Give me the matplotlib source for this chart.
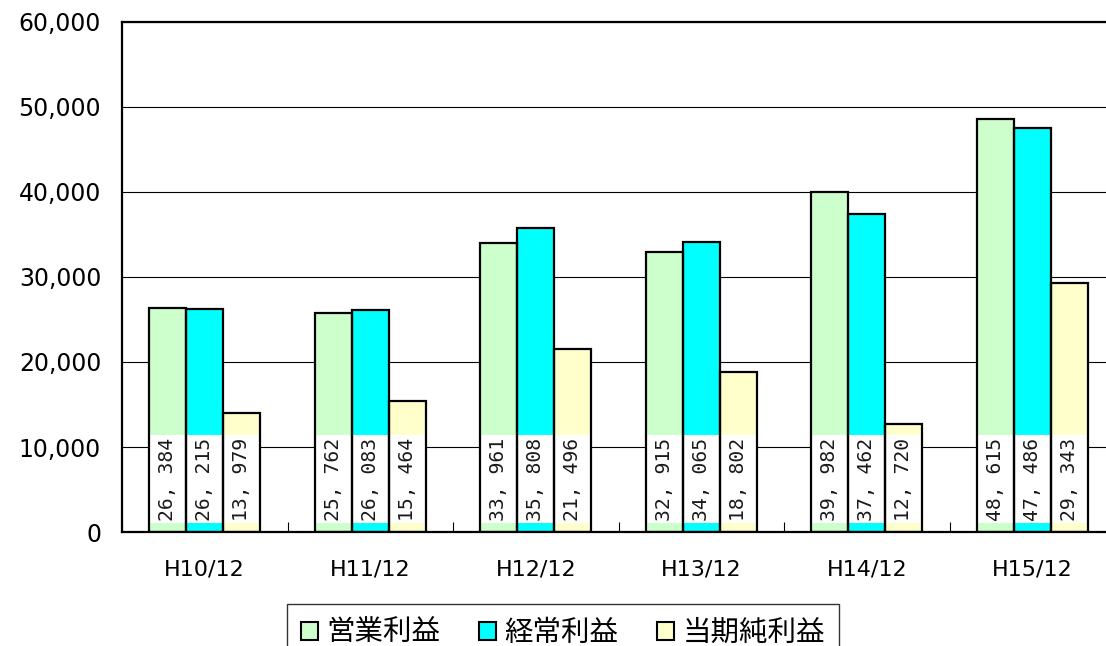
import matplotlib
matplotlib.use("Agg")
import matplotlib.pyplot as plt
import numpy as np
from matplotlib.ticker import FuncFormatter

categories = ["H10/12", "H11/12", "H12/12", "H13/12", "H14/12", "H15/12"]
series_names = ["営業利益", "経常利益", "当期純利益"]
operating = [26384, 25762, 33961, 32915, 39982, 48615]
ordinary = [26215, 26083, 35808, 34065, 37462, 47486]
net = [13979, 15464, 21496, 18802, 12720, 29343]
yticks = [0, 10000, 20000, 30000, 40000, 50000, 60000]

colors = ["#CCFFCC", "#00FFFF", "#FFFFCC"]
series = [operating, ordinary, net]

plt.rcParams['font.family'] = ['DejaVu Sans', 'Noto Sans CJK JP']

W, H = 1106, 646
fig = plt.figure(figsize=(W / 100, H / 100), dpi=100)
ax_left = 122 / W
ax_bottom = 1 - 532 / H
ax_height = (532 - 22) / H
ax_width = 6 * 165.5 / W
ax = fig.add_axes([ax_left, ax_bottom, ax_width, ax_height])

x = np.arange(len(categories))
bw = 0.224
offsets = [-bw, 0, bw]

ax.set_xlim(-0.5, len(categories) - 0.5)
ax.set_ylim(0, 60000)

# gridlines
ax.set_yticks(yticks)
ax.yaxis.grid(True, color="#000000", linewidth=0.8, zorder=0)
ax.set_axisbelow(True)

box_lo, box_hi = 1050, 11400
handles = []
for i, (vals, c, name) in enumerate(zip(series, colors, series_names)):
    pos = x + offsets[i]
    h = ax.bar(pos, vals, width=bw, color=c, edgecolor="none", zorder=2, label=name)
    # white label box
    ax.bar(pos, [box_hi - box_lo] * len(vals), bottom=box_lo, width=bw,
           color="white", edgecolor="none", zorder=3)
    # outline on top
    ax.bar(pos, vals, width=bw, fill=False, edgecolor="black", linewidth=1.6, zorder=5)
    for px, v in zip(pos, vals):
        s = f"{v:,}".replace(",", ", ")
        ax.text(px, box_lo + 250, s, rotation=90, ha="center", va="bottom",
                fontsize=14.2, family="DejaVu Sans Mono", color="#1a1a1a", zorder=4)
    handles.append(h)

ax.yaxis.set_major_formatter(FuncFormatter(lambda v, p: f"{int(v):,}"))
ax.tick_params(axis="y", length=0, pad=15, labelsize=17)

ax.set_xticks(np.arange(len(categories) + 1) - 0.5, minor=False)
ax.set_xticklabels([])
ax.set_xticks(x, minor=True)
ax.set_xticklabels(categories, minor=True, fontsize=16)
ax.tick_params(axis="x", which="major", direction="in", length=7, width=0.8)
ax.tick_params(axis="x", which="minor", length=0, pad=20)

for side in ["left", "top", "bottom"]:
    ax.spines[side].set_linewidth(1.6)
    ax.spines[side].set_color("black")
ax.spines["right"].set_visible(False)

leg = fig.legend(handles=[plt.Rectangle((0, 0), 1, 1, facecolor=c, edgecolor="black", linewidth=1.5)
                          for c in colors],
                 labels=series_names, loc="upper center",
                 bbox_to_anchor=(563 / W, 1 - 604 / H), ncol=3,
                 prop={"family": ["Noto Sans CJK JP", "DejaVu Sans"], "size": 20.5},
                 handlelength=0.6, handleheight=0.6, handletextpad=0.3,
                 columnspacing=1.35, borderpad=0.5, borderaxespad=0.0,
                 frameon=True, fancybox=False)
leg.get_frame().set_edgecolor("black")
leg.get_frame().set_linewidth(1.0)

fig.savefig("out.png", dpi=100)
